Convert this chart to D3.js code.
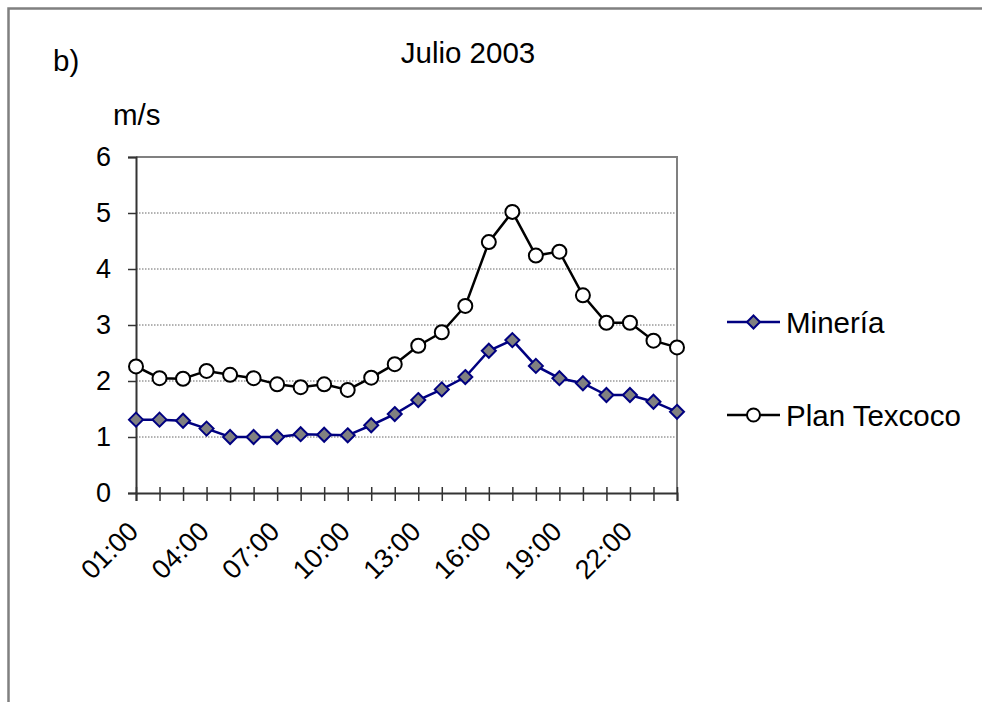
<!DOCTYPE html>
<html>
<head>
<meta charset="utf-8">
<script src="https://cdn.jsdelivr.net/npm/d3@7"></script>
<style>
  body { margin: 0; background: #fff; }
  svg { display: block; font-family: 'Liberation Sans', Arial, sans-serif; }
</style>
</head>
<body>
<div id="chart"></div>
<script>
// Hourly mean wind speed, July 2003
const HOURS = ['01:00', '02:00', '03:00', '04:00', '05:00', '06:00', '07:00', '08:00',
  '09:00', '10:00', '11:00', '12:00', '13:00', '14:00', '15:00', '16:00',
  '17:00', '18:00', '19:00', '20:00', '21:00', '22:00', '23:00', '24:00'];
const HOUR_LABELS = ['01:00', '04:00', '07:00', '10:00', '13:00', '16:00', '19:00', '22:00'];
const MINERIA = [1.31, 1.31, 1.29, 1.15, 1.00, 1.00, 1.00, 1.05, 1.04, 1.03, 1.21, 1.41,
  1.66, 1.85, 2.07, 2.54, 2.73, 2.27, 2.05, 1.96, 1.75, 1.75, 1.63, 1.45];
const TEXCOCO = [2.26, 2.05, 2.04, 2.18, 2.11, 2.05, 1.94, 1.89, 1.94, 1.84, 2.06, 2.30,
  2.63, 2.87, 3.34, 4.48, 5.02, 4.24, 4.31, 3.53, 3.04, 3.04, 2.72, 2.60];
const Y_TICKS = [0, 1, 2, 3, 4, 5, 6];

const W = 982, H = 702;
const PLOT = { left: 136, right: 677, top: 157, bottom: 493 };
const NAVY = '#000080';
const BIG = '29.5px';
const TICK_FONT = '27px';

const svg = d3.select('#chart').append('svg')
  .attr('width', W)
  .attr('height', H);

// outer frame (runs off the right and bottom of the picture)
svg.append('rect')
  .attr('x', 8.5).attr('y', 8.5)
  .attr('width', W + 20).attr('height', H + 20)
  .attr('fill', '#fff')
  .attr('stroke', '#808080')
  .attr('stroke-width', 2.5);

const x = d3.scalePoint().domain(HOURS).range([PLOT.left, PLOT.right]);
const y = d3.scaleLinear().domain([0, 6]).range([PLOT.bottom, PLOT.top]);

// gridlines
svg.append('g')
  .selectAll('line')
  .data(Y_TICKS.filter((d) => d > 0 && d < 6))
  .join('line')
  .attr('x1', PLOT.left).attr('x2', PLOT.right)
  .attr('y1', (d) => y(d)).attr('y2', (d) => y(d))
  .attr('stroke', '#666')
  .attr('stroke-width', 1)
  .attr('stroke-dasharray', '1.5,1.5');

// plot border on top and right
svg.append('path')
  .attr('d', `M${PLOT.left},${y(6)}H${PLOT.right}V${PLOT.bottom}`)
  .attr('fill', 'none')
  .attr('stroke', '#808080')
  .attr('stroke-width', 2);

// y axis
const yAxis = svg.append('g')
  .attr('transform', `translate(${PLOT.left},0)`)
  .call(d3.axisLeft(y).tickValues(Y_TICKS).tickSize(8).tickPadding(17).tickFormat((d) => d));
yAxis.select('.domain').attr('stroke', '#333').attr('stroke-width', 2);
yAxis.selectAll('.tick line').attr('stroke', '#333').attr('stroke-width', 1.5);
yAxis.selectAll('.tick text')
  .attr('font-size', TICK_FONT)
  .attr('fill', '#000')
  .attr('font-family', "'Liberation Sans', Arial, sans-serif");

// x axis
const xAxis = svg.append('g')
  .attr('transform', `translate(0,${PLOT.bottom})`)
  .call(d3.axisBottom(x).tickSize(8).tickFormat(''));
xAxis.select('.domain').attr('stroke', '#333').attr('stroke-width', 2);
xAxis.selectAll('.tick line')
  .attr('y1', -6).attr('y2', 8)
  .attr('stroke', '#333').attr('stroke-width', 1.5);

svg.append('g')
  .selectAll('text')
  .data(HOUR_LABELS)
  .join('text')
  .attr('transform', (d) => `translate(${x(d) + 4},${PLOT.bottom + 40}) rotate(-45)`)
  .attr('text-anchor', 'end')
  .attr('font-size', TICK_FONT)
  .attr('fill', '#000')
  .text((d) => d);

// series
const line = (vals) => d3.line()
  .x((d, i) => x(HOURS[i]))
  .y((d) => y(d))(vals);

const diamond = (cx, cy, r) => `M${cx},${cy - r}L${cx + r},${cy}L${cx},${cy + r}L${cx - r},${cy}Z`;

svg.append('path')
  .attr('d', line(TEXCOCO))
  .attr('fill', 'none')
  .attr('stroke', '#000')
  .attr('stroke-width', 2.5);

svg.append('path')
  .attr('d', line(MINERIA))
  .attr('fill', 'none')
  .attr('stroke', NAVY)
  .attr('stroke-width', 2.5);

svg.append('g')
  .selectAll('path')
  .data(MINERIA)
  .join('path')
  .attr('d', (d, i) => diamond(x(HOURS[i]), y(d), 7))
  .attr('fill', '#808080')
  .attr('stroke', NAVY)
  .attr('stroke-width', 2);

svg.append('g')
  .selectAll('circle')
  .data(TEXCOCO)
  .join('circle')
  .attr('cx', (d, i) => x(HOURS[i]))
  .attr('cy', (d) => y(d))
  .attr('r', 7)
  .attr('fill', '#fff')
  .attr('stroke', '#000')
  .attr('stroke-width', 2);

// texts
svg.append('text')
  .attr('x', 468).attr('y', 63)
  .attr('text-anchor', 'middle')
  .attr('font-size', BIG)
  .text('Julio 2003');

svg.append('text')
  .attr('x', 53).attr('y', 71)
  .attr('font-size', BIG)
  .text('b)');

svg.append('text')
  .attr('x', 113).attr('y', 125)
  .attr('font-size', BIG)
  .text('m/s');

// legend
const legend = svg.append('g').attr('transform', 'translate(727,0)');
const entries = [
  { name: 'Minería', color: NAVY, cy: 322, mark: 'diamond' },
  { name: 'Plan Texcoco', color: '#000', cy: 415, mark: 'circle' }
];
for (const e of entries) {
  legend.append('line')
    .attr('x1', 0).attr('x2', 53)
    .attr('y1', e.cy).attr('y2', e.cy)
    .attr('stroke', e.color)
    .attr('stroke-width', 2.5);
  if (e.mark === 'diamond') {
    legend.append('path')
      .attr('d', diamond(26.5, e.cy, 6.5))
      .attr('fill', '#808080')
      .attr('stroke', NAVY)
      .attr('stroke-width', 2);
  } else {
    legend.append('circle')
      .attr('cx', 26.5).attr('cy', e.cy).attr('r', 6.5)
      .attr('fill', '#fff')
      .attr('stroke', '#000')
      .attr('stroke-width', 2);
  }
  legend.append('text')
    .attr('x', 59).attr('y', e.cy + 10.5)
    .attr('font-size', BIG)
    .text(e.name);
}
</script>
</body>
</html>
